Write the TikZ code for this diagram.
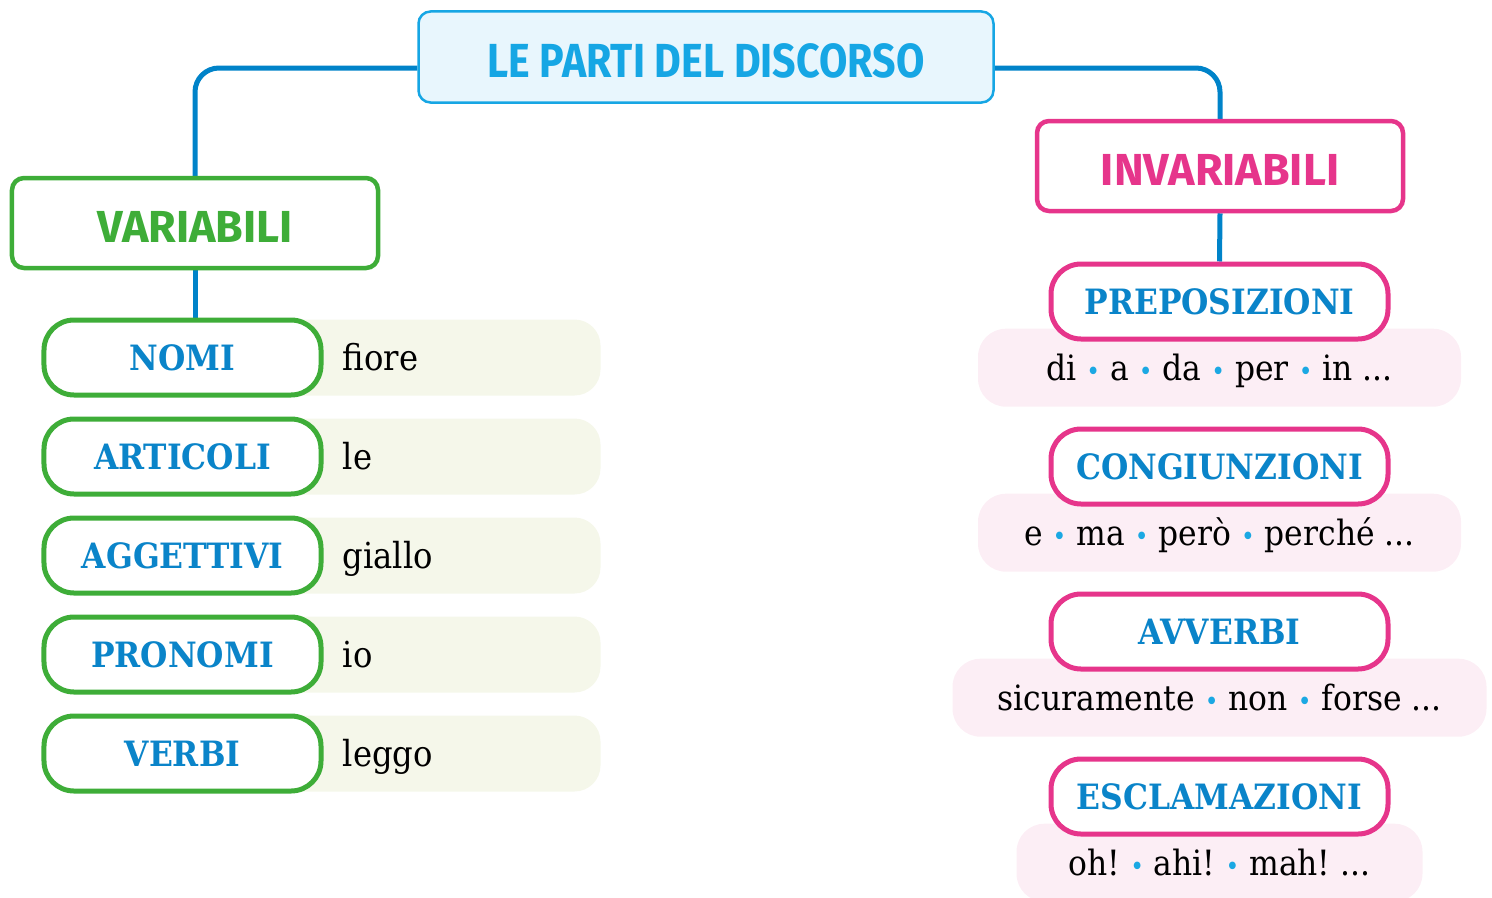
\documentclass[tikz,border=0pt]{standalone}
\definecolor{titleCyan}{HTML}{16A6E4}
\definecolor{titleFill}{HTML}{E8F6FD}
\definecolor{branchBlue}{HTML}{0083C9}
\definecolor{varGreen}{HTML}{3EAD38}
\definecolor{invPink}{HTML}{E6358B}
\definecolor{labelBlue}{HTML}{0A84C9}
\definecolor{creamFill}{HTML}{F5F7EA}
\definecolor{blushFill}{HTML}{FCEEF5}
\definecolor{bulletCyan}{HTML}{1BA8E3}
\usepackage{fontspec}
\usepackage{tikz}
\usetikzlibrary{positioning, backgrounds}
\newfontfamily\titlefont[FakeStretch=0.86]{Fira Sans}
\newfontfamily\branchfont{Fira Sans}
\newfontfamily\slabfont[FakeStretch=0.9]{DejaVu Serif}
\newcommand{\sepdot}{{\color{bulletCyan}\fontsize{26}{30}\selectfont •}}
\frenchspacing

\tikzset{
  branch/.style={draw=branchBlue, line width=5bp, rounded corners=24bp},
  groupbox/.style={draw=#1, text=#1, line width=4.5bp, fill=white, rounded corners=12bp,
    minimum width=366bp, minimum height=90bp, text height=39bp, text depth=0bp,
    font=\branchfont\bfseries\fontsize{45}{50}\selectfont},
  partbox/.style={draw=#1, line width=5bp, fill=white, rounded corners=30bp, text=labelBlue,
    minimum height=75bp, text height=26bp, text depth=0bp,
    font=\slabfont\bfseries\fontsize{35}{40}\selectfont},
  example/.style={inner sep=0pt, text height=26bp, text depth=0bp,
    font=\slabfont\fontsize{36}{40}\selectfont},
  blushbar/.style={fill=blushFill, rounded corners=28bp, minimum height=78bp, inner sep=0pt,
    text height=26bp, text depth=0bp, font=\slabfont\fontsize{35}{40}\selectfont},
}

\begin{document}
\begin{tikzpicture}[x=1bp, y=-1bp]
  \useasboundingbox (0,0) rectangle (1492,897);

  \node[draw=titleCyan, fill=titleFill, line width=2.5bp, rounded corners=12bp,
        minimum width=575bp, minimum height=91bp, text=titleCyan, text height=41bp, text depth=0bp,
        font=\titlefont\bfseries\fontsize{48}{52}\selectfont] (title) at (706,57) {LE PARTI DEL DISCORSO};

  \node[groupbox=varGreen] (variabili) at (195,223) {VARIABILI};
  \node[groupbox=invPink] (invariabili) at (1220,166) {INVARIABILI};

  \node[partbox=varGreen, minimum width=277bp] (nomi) at (182.5,357.5) {NOMI};
  \node[partbox=varGreen, minimum width=277bp, below=19bp of nomi] (articoli) {ARTICOLI};
  \node[partbox=varGreen, minimum width=277bp, below=19bp of articoli] (aggettivi) {AGGETTIVI};
  \node[partbox=varGreen, minimum width=277bp, below=19bp of aggettivi] (pronomi) {PRONOMI};
  \node[partbox=varGreen, minimum width=277bp, below=19bp of pronomi] (verbi) {VERBI};

  \node[example, right=19bp of nomi] (nomiex) {fiore};
  \node[example, right=19bp of articoli] (articoliex) {le};
  \node[example, right=19bp of aggettivi] (aggettiviex) {giallo};
  \node[example, right=19bp of pronomi] (pronomiex) {io};
  \node[example, right=19bp of verbi] (verbiex) {leggo};

  \node[partbox=invPink, minimum width=337bp] (preposizioni) at (1219.5,301.5) {PREPOSIZIONI};
  \node[partbox=invPink, minimum width=337bp, below=85bp of preposizioni] (congiunzioni) {CONGIUNZIONI};
  \node[partbox=invPink, minimum width=337bp, below=85bp of congiunzioni] (avverbi) {AVVERBI};
  \node[partbox=invPink, minimum width=337bp, below=85bp of avverbi] (esclamazioni) {ESCLAMAZIONI};

  \begin{scope}[on background layer]
    \draw[branch] ([yshift=-11bp]title.west) -| (variabili.north);
    \draw[branch] ([yshift=-11bp]title.east) -| (invariabili.north);
    \draw[branch] (variabili.south) -- (variabili.south |- nomi.north);
    \draw[branch] (invariabili.south) -- (preposizioni.north);

    \foreach \part in {nomi, articoli, aggettivi, pronomi, verbi}
      \fill[creamFill, rounded corners=26bp] ([yshift=-2bp]\part.north) rectangle ([xshift=277bp, yshift=2bp]\part.south east);

    \node[blushbar, minimum width=483bp, below=-13bp of preposizioni] (preposizioniex)
      {di \sepdot{} a \sepdot{} da \sepdot{} per \sepdot{} in ...};
    \node[blushbar, minimum width=483bp, below=-13bp of congiunzioni] (congiunzioniex)
      {e \sepdot{} ma \sepdot{} però \sepdot{} perché ...};
    \node[blushbar, minimum width=534bp, below=-13bp of avverbi] (avverbiex)
      {sicuramente \sepdot{} non \sepdot{} forse ...};
    \node[blushbar, minimum width=406bp, below=-13bp of esclamazioni] (esclamazioniex)
      {oh! \sepdot{} ahi! \sepdot{} mah! ...};
  \end{scope}
\end{tikzpicture}
\end{document}
